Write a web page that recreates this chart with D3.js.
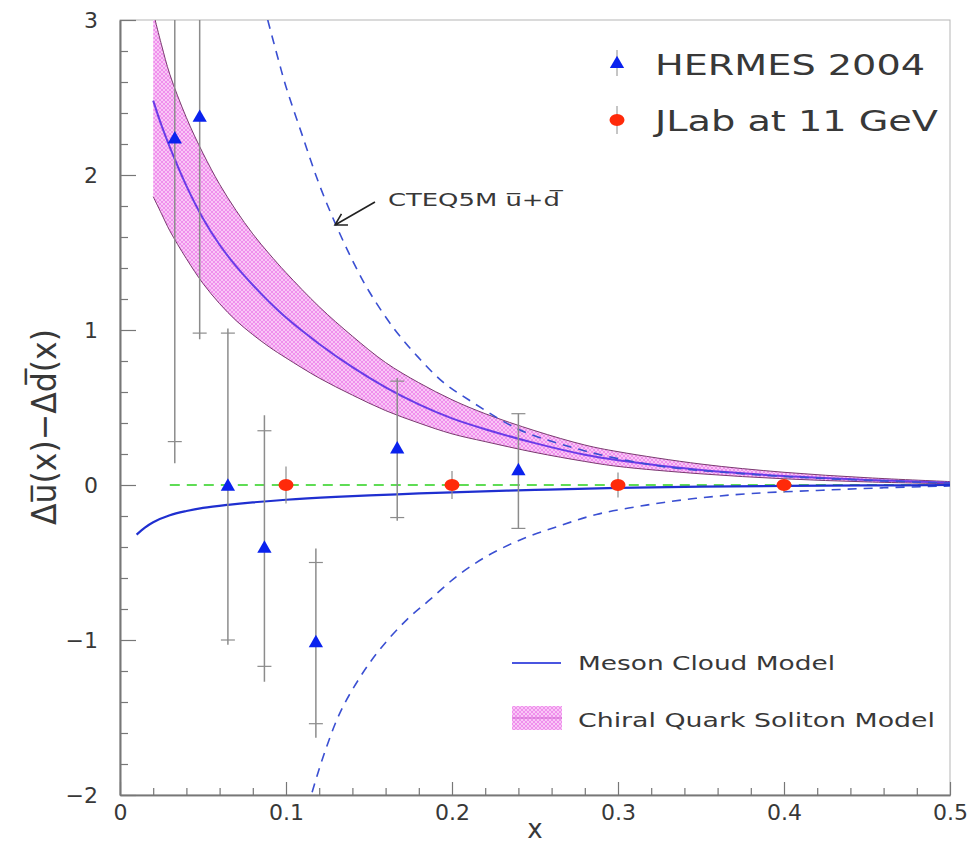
<!DOCTYPE html>
<html>
<head>
<meta charset="utf-8">
<script src="https://cdn.jsdelivr.net/npm/d3@7"></script>
<style>
  body { margin: 0; background: #fff; }
  svg { display: block; }
  text { font-family: "DejaVu Sans", sans-serif; fill: #383838; }
</style>
</head>
<body>
<svg id="chart" width="975" height="851"></svg>
<script>
// ---- HERMES 2004 data: x, value, statistical and total errors ----
const hermesX    = [0.033, 0.048, 0.065, 0.087, 0.118, 0.167, 0.240];
const hermesY    = [2.23, 2.37, -0.01, -0.41, -1.02, 0.23, 0.09];
const hermesStat = [1.95, 1.39, 0.99, 0.76, 0.52, 0.44, 0.37];
const hermesTot  = [2.09, 1.43, 1.02, 0.86, 0.61, 0.46, 0.37];

// ---- projected JLab 11 GeV points ----
const jlabX   = [0.1, 0.2, 0.3, 0.4];
const jlabY   = [0, 0, 0, 0];
const jlabErr = [0.12, 0.09, 0.08, 0.05];

// ---- Meson cloud model ----
const mesonX = [0.01, 0.015, 0.02, 0.03, 0.04, 0.05, 0.065, 0.08, 0.1, 0.13, 0.167, 0.2, 0.25, 0.3, 0.35, 0.4, 0.45, 0.5];
const mesonY = [-0.32, -0.275, -0.24, -0.195, -0.168, -0.148, -0.128, -0.112, -0.095, -0.077, -0.06, -0.047, -0.032, -0.019, -0.011, -0.006, -0.003, 0];

// ---- Chiral quark soliton model band ----
const cqsmX      = [0.02, 0.025, 0.03, 0.04, 0.05, 0.06, 0.07, 0.08, 0.09, 0.10, 0.12, 0.14, 0.16, 0.18, 0.20, 0.22, 0.25, 0.28, 0.30, 0.35, 0.40, 0.45, 0.50];
const cqsmCenter = [2.48, 2.32, 2.18, 1.93, 1.72, 1.55, 1.41, 1.29, 1.18, 1.08, 0.91, 0.76, 0.63, 0.52, 0.43, 0.36, 0.27, 0.195, 0.16, 0.097, 0.058, 0.033, 0.015];
const cqsmUpper  = [3.05, 2.84, 2.65, 2.37, 2.14, 1.94, 1.77, 1.62, 1.49, 1.37, 1.15, 0.96, 0.79, 0.66, 0.55, 0.46, 0.35, 0.258, 0.215, 0.135, 0.082, 0.047, 0.022];
const cqsmLower  = [1.86, 1.75, 1.64, 1.46, 1.30, 1.17, 1.06, 0.97, 0.89, 0.82, 0.69, 0.58, 0.48, 0.40, 0.33, 0.28, 0.21, 0.152, 0.12, 0.072, 0.04, 0.02, 0.008];

// ---- CTEQ5M ±(ubar+dbar) reference curves ----
const cteqUpX = [0.089, 0.095, 0.10, 0.11, 0.12, 0.13, 0.14, 0.15, 0.165, 0.18, 0.195, 0.21, 0.24, 0.27, 0.30, 0.33, 0.36, 0.40, 0.45, 0.50];
const cteqUpY = [3.0, 2.76, 2.57, 2.25, 1.94, 1.68, 1.45, 1.25, 1.01, 0.82, 0.66, 0.55, 0.36, 0.25, 0.17, 0.115, 0.085, 0.055, 0.03, 0.012];
const cteqLoX = [0.113, 0.1155, 0.1225, 0.1325, 0.1446, 0.1566, 0.1727, 0.1867, 0.2028, 0.2209, 0.241, 0.263, 0.287, 0.317, 0.347, 0.38, 0.42, 0.46, 0.50];
const cteqLoY = [-2.08, -1.99, -1.75, -1.47, -1.24, -1.06, -0.87, -0.74, -0.59, -0.46, -0.355, -0.27, -0.19, -0.13, -0.086, -0.055, -0.035, -0.018, -0.006];

// ---- zero reference line ----
const zeroLineX = [0.03, 0.5];
const zeroLineY = [0, 0];

// ---- axis ticks ----
const xTicks = [0, 0.1, 0.2, 0.3, 0.4, 0.5];
const xTickLabels = ["0", "0.1", "0.2", "0.3", "0.4", "0.5"];
const yTicks = [-2, -1, 0, 1, 2, 3];
const yTickLabels = ["\u22122", "\u22121", "0", "1", "2", "3"];

// ---- CTEQ annotation (data coordinates) ----
const cteqLabelPos = [0.1614, 1.80];
const cteqArrowFrom = [0.1536, 1.826];
const cteqArrowTo = [0.1295, 1.677];

const svg = d3.select("#chart");
const mLeft = 120, mRight = 950, mTop = 20, mBottom = 795;

const x = d3.scaleLinear().domain([0, 0.5]).range([mLeft, mRight]);
const y = d3.scaleLinear().domain([-2, 3]).range([mBottom, mTop]);
const smooth = d3.curveCatmullRom.alpha(0.5);

const defs = svg.append("defs");
defs.append("clipPath").attr("id", "plotClip")
  .append("rect").attr("x", mLeft).attr("y", mTop)
  .attr("width", mRight - mLeft).attr("height", mBottom - mTop);

// cross-hatched pink fill for the soliton band
const pat = defs.append("pattern").attr("id", "hatch")
  .attr("width", 4).attr("height", 4).attr("patternUnits", "userSpaceOnUse");
pat.append("rect").attr("width", 4).attr("height", 4).attr("fill", "#f9c6f6");
pat.append("path").attr("d", "M0,4 L4,0 M-1,1 L1,-1 M3,5 L5,3 M0,0 L4,4 M-1,3 L1,5 M3,-1 L5,1")
  .attr("stroke", "#ec7ee8").attr("stroke-width", 0.75);

// frame
svg.append("rect").attr("x", mLeft).attr("y", mTop)
  .attr("width", mRight - mLeft).attr("height", mBottom - mTop)
  .attr("fill", "none").attr("stroke", "#b5b5b5").attr("stroke-width", 1);

const plot = svg.append("g").attr("clip-path", "url(#plotClip)");

// band
const band = cqsmX.map((v, i) => ({ x: v, lo: cqsmLower[i], hi: cqsmUpper[i], c: cqsmCenter[i] }));
plot.append("path").datum(band)
  .attr("d", d3.area().x(d => x(d.x)).y0(d => y(d.lo)).y1(d => y(d.hi)).curve(smooth))
  .attr("fill", "url(#hatch)");
["hi", "lo"].forEach(k => {
  plot.append("path").datum(band)
    .attr("d", d3.line().x(d => x(d.x)).y(d => y(d[k])).curve(smooth))
    .attr("fill", "none").attr("stroke", "#7a3a70").attr("stroke-width", 1);
});
plot.append("path").datum(band)
  .attr("d", d3.line().x(d => x(d.x)).y(d => y(d.c)).curve(smooth))
  .attr("fill", "none").attr("stroke", "#6a3ce8").attr("stroke-width", 2);

const lineXY = d3.line().x(d => x(d[0])).y(d => y(d[1])).curve(smooth);
const zip = (a, b) => a.map((v, i) => [v, b[i]]);

// CTEQ dashed curves
[[cteqUpX, cteqUpY], [cteqLoX, cteqLoY]].forEach(([xs, ys]) => {
  plot.append("path").datum(zip(xs, ys))
    .attr("d", lineXY)
    .attr("fill", "none").attr("stroke", "#3a4fd2").attr("stroke-width", 1.6)
    .attr("stroke-dasharray", "9,7");
});

// zero line
plot.append("path").datum(zip(zeroLineX, zeroLineY))
  .attr("d", d3.line().x(d => x(d[0])).y(d => y(d[1])))
  .attr("fill", "none").attr("stroke", "#5fdc55").attr("stroke-width", 2)
  .attr("stroke-dasharray", "10,7");

// meson cloud model
plot.append("path").datum(zip(mesonX, mesonY))
  .attr("d", lineXY)
  .attr("fill", "none").attr("stroke", "#1f2fd0").attr("stroke-width", 2.2);

// HERMES error bars
const errColor = "#8c8c8c";
hermesX.forEach((xv, i) => {
  const yv = hermesY[i];
  plot.append("line")
    .attr("x1", x(xv)).attr("x2", x(xv))
    .attr("y1", y(yv + hermesTot[i])).attr("y2", y(yv - hermesTot[i]))
    .attr("stroke", errColor).attr("stroke-width", 1.5);
  [yv + hermesStat[i], yv - hermesStat[i]].forEach(t => {
    plot.append("line")
      .attr("x1", x(xv) - 7).attr("x2", x(xv) + 7)
      .attr("y1", y(t)).attr("y2", y(t))
      .attr("stroke", errColor).attr("stroke-width", 1.2);
  });
});

// JLab error bars
jlabX.forEach((xv, i) => {
  plot.append("line")
    .attr("x1", x(xv)).attr("x2", x(xv))
    .attr("y1", y(jlabY[i] + jlabErr[i])).attr("y2", y(jlabY[i] - jlabErr[i]))
    .attr("stroke", errColor).attr("stroke-width", 1.2);
});

// markers
const tri = d3.symbol().type(d3.symbolTriangle).size(88);
hermesX.forEach((xv, i) => {
  plot.append("path").attr("d", tri)
    .attr("transform", `translate(${x(xv)},${y(hermesY[i])})`)
    .attr("fill", "#0a22ee");
});
jlabX.forEach((xv, i) => {
  plot.append("ellipse")
    .attr("cx", x(xv)).attr("cy", y(jlabY[i]))
    .attr("rx", 7.5).attr("ry", 6)
    .attr("fill", "#ff2a0a");
});

// axes
const axisColor = "#777";
function styleAxis(g, fontSize) {
  g.select(".domain").attr("stroke", axisColor).attr("stroke-width", 1.6);
  g.selectAll(".tick line").attr("stroke", axisColor).attr("stroke-width", 1.2);
  g.selectAll(".tick text").attr("fill", "#3a3a3a").style("font-size", fontSize + "px")
    .style("font-family", '"DejaVu Sans", sans-serif');
}
const yMinor = d3.range(-2, 3.001, 0.2).filter(v => Math.abs(v - Math.round(v)) > 1e-6);
const xMinor = d3.range(0, 0.5001, 0.02).filter(v => Math.abs(v * 10 - Math.round(v * 10)) > 1e-6);

const gyMinor = svg.append("g").attr("transform", `translate(${mLeft},0)`)
  .call(d3.axisLeft(y).tickValues(yMinor).tickSizeInner(-8).tickSizeOuter(0).tickFormat(""));
styleAxis(gyMinor, 21);
const gy = svg.append("g").attr("transform", `translate(${mLeft},0)`)
  .call(d3.axisLeft(y).tickValues(yTicks).tickSizeInner(-16).tickSizeOuter(0).tickPadding(22)
    .tickFormat((d, i) => yTickLabels[i]));
styleAxis(gy, 22);

const gxMinor = svg.append("g").attr("transform", `translate(0,${mBottom})`)
  .call(d3.axisBottom(x).tickValues(xMinor).tickSizeInner(-7).tickSizeOuter(0).tickFormat(""));
styleAxis(gxMinor, 21);
const gx = svg.append("g").attr("transform", `translate(0,${mBottom})`)
  .call(d3.axisBottom(x).tickValues(xTicks).tickSizeInner(-13).tickSizeOuter(0).tickPadding(9)
    .tickFormat((d, i) => xTickLabels[i]));
styleAxis(gx, 22);

// axis titles
svg.append("text")
  .attr("transform", "translate(56,427) rotate(-90)")
  .attr("text-anchor", "middle")
  .style("font-size", "34px")
  .attr("textLength", 196).attr("lengthAdjust", "spacingAndGlyphs")
  .text("\u0394u\u0305(x)\u2212\u0394d\u0305(x)");
svg.append("text")
  .attr("x", (mLeft + mRight) / 2).attr("y", 838)
  .attr("text-anchor", "middle")
  .style("font-size", "26px")
  .text("x");

// CTEQ annotation
svg.append("text")
  .attr("x", x(cteqLabelPos[0])).attr("y", y(cteqLabelPos[1]))
  .style("font-size", "18px")
  .attr("textLength", 172).attr("lengthAdjust", "spacingAndGlyphs")
  .text("CTEQ5M u\u0305+d\u0305");
{
  const x1 = x(cteqArrowFrom[0]), y1 = y(cteqArrowFrom[1]);
  const x2 = x(cteqArrowTo[0]), y2 = y(cteqArrowTo[1]);
  const ang = Math.atan2(y2 - y1, x2 - x1);
  const L = 13, spread = Math.PI / 6;
  const p = (a) => [x2 - L * Math.cos(ang - a), y2 - L * Math.sin(ang - a)];
  const [ax, ay] = p(spread), [bx, by] = p(-spread);
  svg.append("path")
    .attr("d", `M${x1},${y1} L${x2},${y2} M${ax},${ay} L${x2},${y2} L${bx},${by}`)
    .attr("fill", "none").attr("stroke", "#222").attr("stroke-width", 1.6);
}

// legend (top right)
const legTop = svg.append("g");
legTop.append("line").attr("x1", 617).attr("x2", 617).attr("y1", 50).attr("y2", 76)
  .attr("stroke", errColor).attr("stroke-width", 1);
legTop.append("path").attr("d", tri).attr("transform", "translate(617,64)").attr("fill", "#0a22ee");
legTop.append("text").attr("x", 655).attr("y", 75).style("font-size", "28px")
  .attr("textLength", 270).attr("lengthAdjust", "spacingAndGlyphs").text("HERMES 2004");
legTop.append("line").attr("x1", 617).attr("x2", 617).attr("y1", 106).attr("y2", 134)
  .attr("stroke", errColor).attr("stroke-width", 1);
legTop.append("ellipse").attr("cx", 617).attr("cy", 120).attr("rx", 7.5).attr("ry", 6).attr("fill", "#ff2a0a");
legTop.append("text").attr("x", 655).attr("y", 131).style("font-size", "28px")
  .attr("textLength", 283).attr("lengthAdjust", "spacingAndGlyphs").text("JLab at 11 GeV");

// legend (models)
const legBot = svg.append("g");
legBot.append("line").attr("x1", 512).attr("x2", 561).attr("y1", 663).attr("y2", 663)
  .attr("stroke", "#4a55e0").attr("stroke-width", 2);
legBot.append("text").attr("x", 578).attr("y", 670).style("font-size", "20px")
  .attr("textLength", 257).attr("lengthAdjust", "spacingAndGlyphs").text("Meson Cloud Model");
legBot.append("rect").attr("x", 512).attr("y", 706).attr("width", 50).attr("height", 24)
  .attr("fill", "url(#hatch)");
legBot.append("line").attr("x1", 512).attr("x2", 562).attr("y1", 718).attr("y2", 718)
  .attr("stroke", "#cf5fd0").attr("stroke-width", 1.2);
legBot.append("text").attr("x", 578).attr("y", 727).style("font-size", "20px")
  .attr("textLength", 357).attr("lengthAdjust", "spacingAndGlyphs").text("Chiral Quark Soliton Model");
</script>
</body>
</html>
